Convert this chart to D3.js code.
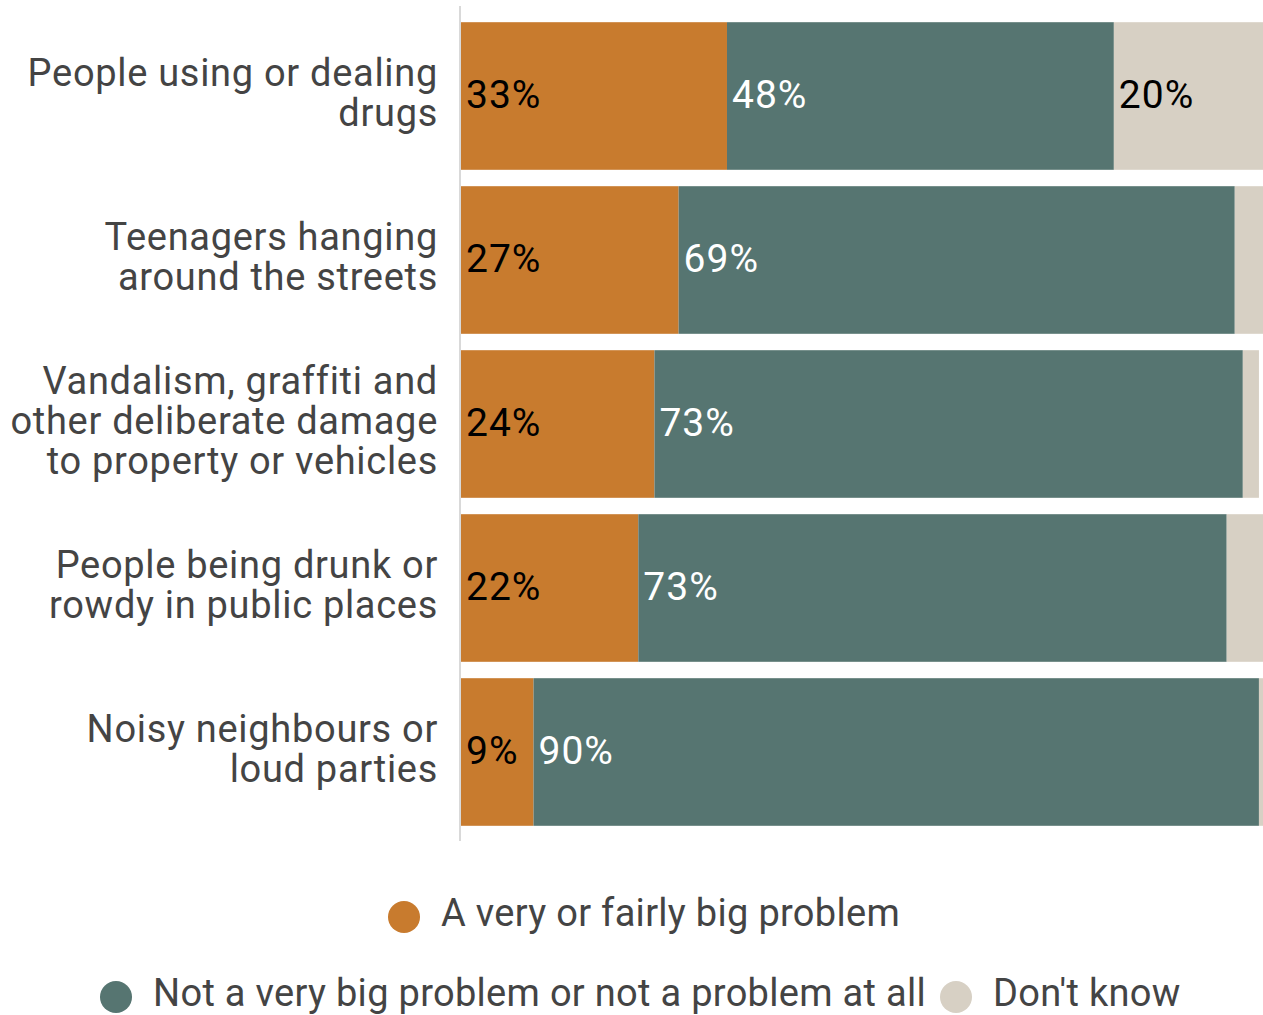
<!DOCTYPE html>
<html>
<head>
<meta charset="utf-8">
<script src="https://cdn.jsdelivr.net/npm/d3@7"></script>
<style>
  html, body { margin: 0; padding: 0; background: #fff; }
  svg { display: block; font-family: Roboto, "Noto Sans", sans-serif; }
</style>
</head>
<body>
<svg id="chart" width="1263" height="1015"></svg>
<script>
// Survey responses: how much of a problem each issue is in the local area (%)
const categories = [
  ["People using or dealing", "drugs"],
  ["Teenagers hanging", "around the streets"],
  ["Vandalism, graffiti and", "other deliberate damage", "to property or vehicles"],
  ["People being drunk or", "rowdy in public places"],
  ["Noisy neighbours or", "loud parties"]
];
const seriesNames = [
  "A very or fairly big problem",
  "Not a very big problem or not a problem at all",
  "Don't know"
];
const bigProblem   = [33, 27, 24, 22, 9];
const notProblem   = [48, 69, 73, 73, 90];
const dontKnow     = [20, 4, 2, 5, 1];
// Only these segments of the "Don't know" series carry a printed value
const labelledDontKnow = [true, false, false, false, false];

const colors = ["#C87B2E", "#567571", "#D7D0C4"];
const labelColors = ["#000", "#fff", "#000"];

const svg = d3.select("#chart");
const margin = { left: 461, right: -4, top: 14, bottom: 181 };
const W = +svg.attr("width"), H = +svg.attr("height");

const rows = categories.map((c, i) => ({
  key: i,
  lines: c,
  values: [bigProblem[i], notProblem[i], dontKnow[i]]
}));

const x = d3.scaleLinear().domain([0, 100]).range([margin.left, W - margin.right]);
const y = d3.scaleBand()
  .domain(rows.map(d => d.key))
  .range([margin.top, H - margin.bottom])
  .paddingInner(0.1)
  .paddingOuter(0.05);

const clip = svg.append("defs").append("clipPath").attr("id", "plot-clip");
clip.append("rect").attr("x", 0).attr("y", 0).attr("width", W).attr("height", H);

// Stacked segments
const stackData = rows.map(r => {
  let acc = 0;
  return r.values.map((v, s) => {
    const seg = { row: r.key, s, v, x0: acc, x1: acc + v };
    acc += v;
    return seg;
  });
});

const g = svg.append("g").attr("clip-path", "url(#plot-clip)");
const rowG = g.selectAll("g.row").data(stackData).join("g").attr("class", "row");

rowG.selectAll("rect").data(d => d).join("rect")
  .attr("x", d => x(d.x0))
  .attr("width", d => x(d.x1) - x(d.x0))
  .attr("y", d => y(d.row))
  .attr("height", y.bandwidth())
  .attr("fill", d => colors[d.s]);

rowG.selectAll("text").data(d => d.filter(seg => seg.s < 2 || labelledDontKnow[seg.row])).join("text")
  .attr("x", d => x(d.x0) + 5)
  .attr("y", d => y(d.row) + y.bandwidth() / 2 - 2)
  .attr("dy", "0.35em")
  .attr("font-size", 39)
  .attr("letter-spacing", "1px")
  .attr("fill", d => labelColors[d.s])
  .text(d => d.v + "%");

// Vertical baseline
svg.append("line")
  .attr("x1", x(0) - 1).attr("x2", x(0) - 1)
  .attr("y1", 6).attr("y2", 841)
  .attr("stroke", "#d9d9d9").attr("stroke-width", 2);

// Category labels, right aligned
const lineH = 40;
const cat = svg.append("g").selectAll("text").data(rows).join("text")
  .attr("text-anchor", "end")
  .attr("font-size", 38)
  .attr("letter-spacing", "0.7px")
  .attr("fill", "#444")
  .attr("transform", d => `translate(${x(0) - 23},${y(d.key) + y.bandwidth() / 2 - 3})`);
cat.selectAll("tspan").data(d => d.lines.map((t, i) => ({ t, i, n: d.lines.length }))).join("tspan")
  .attr("x", 0)
  .attr("y", d => (d.i - (d.n - 1) / 2) * lineH)
  .attr("dy", "0.35em")
  .text(d => d.t);

// Legend
const legendItems = [
  { s: 0, cx: 404, cy: 917 },
  { s: 1, cx: 116, cy: 997 },
  { s: 2, cx: 956, cy: 997 }
];
const leg = svg.append("g").selectAll("g").data(legendItems).join("g")
  .attr("transform", d => `translate(${d.cx},${d.cy})`);
leg.append("circle").attr("r", 16).attr("fill", d => colors[d.s]);
leg.append("text")
  .attr("x", 37)
  .attr("y", -4)
  .attr("dy", "0.35em")
  .attr("font-size", 38)
  .attr("letter-spacing", "0.3px")
  .attr("fill", "#444")
  .text(d => seriesNames[d.s]);
</script>
</body>
</html>
